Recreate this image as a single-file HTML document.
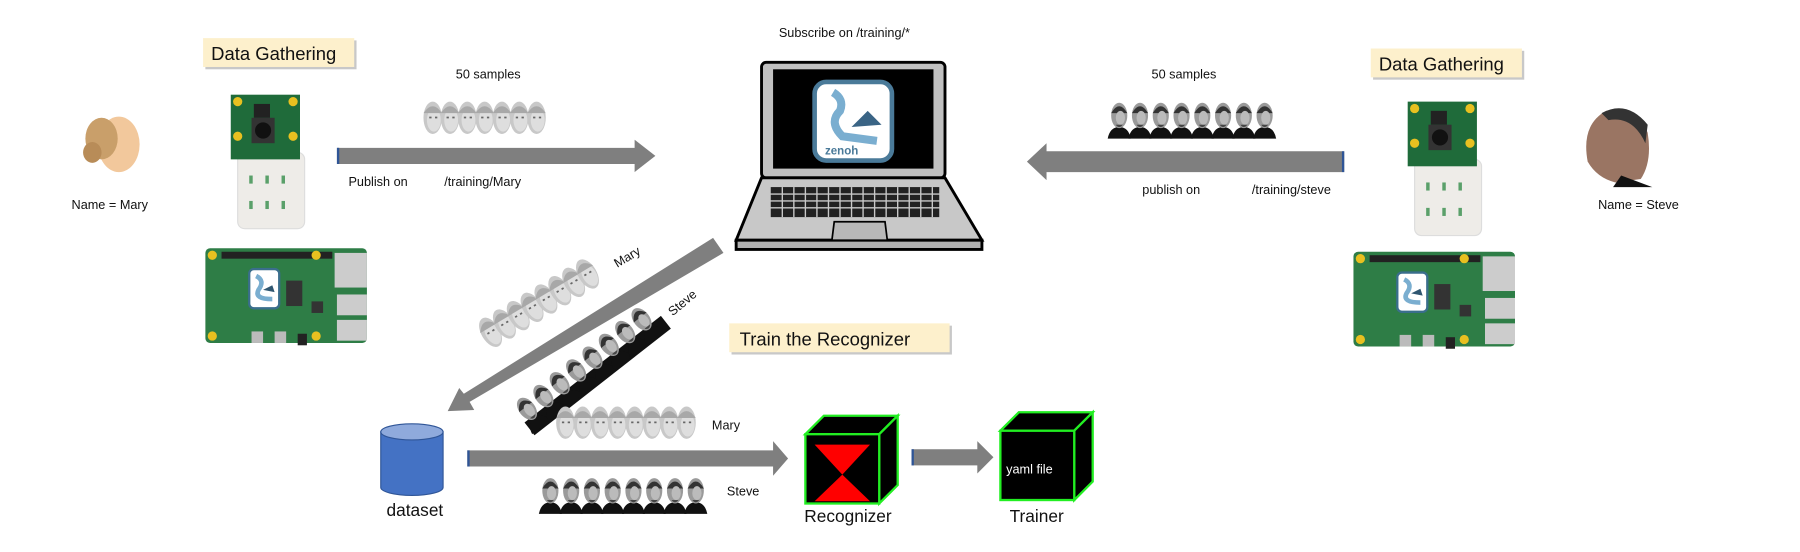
<!DOCTYPE html>
<html><head><meta charset="utf-8"><style>
html,body{margin:0;padding:0;background:#fff;}
svg{display:block;}
text{font-family:"Liberation Sans",sans-serif;}
</style></head><body>
<svg width="1800" height="552" viewBox="0 0 1560 478" preserveAspectRatio="none" xmlns="http://www.w3.org/2000/svg">
<defs>
<g id="mf"><ellipse cx="0" cy="0" rx="8" ry="14" fill="#c8c8c8"/><ellipse cx="1" cy="2" rx="6" ry="10" fill="#dedede"/><path d="M-8,-4 Q0,-16 8,-4" fill="#a8a8a8"/><rect x="-3" y="-1" width="2" height="1.5" fill="#666"/><rect x="2" y="-1" width="2" height="1.5" fill="#666"/></g>
<g id="sf"><path d="M-10,18 Q-8,8 0,8 Q8,8 10,18 Z" fill="#111"/><ellipse cx="0" cy="-2" rx="7" ry="11" fill="#9a9a9a"/><path d="M-7,-4 Q0,-16 7,-4" fill="#333"/><ellipse cx="1" cy="0" rx="4" ry="6" fill="#bbb"/><path d="M-3,6 Q0,10 3,6" fill="#444"/></g>
<g id="cam">
<rect x="6" y="50" width="58" height="66" rx="6" fill="#eeece8" stroke="#ddd"/>
<g fill="#5aa06a"><rect x="16" y="70" width="3" height="7"/><rect x="30" y="70" width="3" height="7"/><rect x="44" y="70" width="3" height="7"/><rect x="16" y="92" width="3" height="7"/><rect x="30" y="92" width="3" height="7"/><rect x="44" y="92" width="3" height="7"/></g>
<rect x="0" y="0" width="60" height="56" fill="#1f6b3a"/>
<circle cx="6" cy="6" r="4" fill="#e8c020"/><circle cx="54" cy="6" r="4" fill="#e8c020"/><circle cx="6" cy="36" r="4" fill="#e8c020"/><circle cx="54" cy="36" r="4" fill="#e8c020"/>
<rect x="20" y="8" width="14" height="12" fill="#222"/><rect x="18" y="20" width="20" height="22" fill="#333"/><circle cx="28" cy="31" r="7" fill="#111"/>
</g>
<g id="rpi">
<rect x="0" y="0" width="140" height="82" rx="4" fill="#2e7d46"/>
<rect x="14" y="3" width="96" height="6" fill="#222"/>
<circle cx="6" cy="6" r="4" fill="#e8c020"/><circle cx="96" cy="6" r="4" fill="#e8c020"/><circle cx="6" cy="76" r="4" fill="#e8c020"/><circle cx="96" cy="76" r="4" fill="#e8c020"/>
<rect x="112" y="4" width="28" height="30" fill="#ccc"/><rect x="114" y="40" width="26" height="18" fill="#ccc"/><rect x="114" y="62" width="26" height="18" fill="#ccc"/>
<rect x="70" y="28" width="14" height="22" fill="#333"/><rect x="92" y="46" width="10" height="10" fill="#333"/>
<rect x="38" y="18" width="26" height="34" rx="4" fill="#fff" stroke="#3a6e8c" stroke-width="2"/>
<path d="M44,24 Q52,28 46,36 Q42,44 58,44" stroke="#7aaed0" stroke-width="4" fill="none"/><path d="M50,36 L58,32 L60,38 Z" fill="#2f5670"/>
<rect x="40" y="72" width="10" height="10" fill="#bbb"/><rect x="60" y="72" width="10" height="10" fill="#bbb"/><rect x="80" y="74" width="8" height="10" fill="#222"/>
</g>
<g id="cube">
<polygon points="0,16 16,0 80,0 64,16" fill="#000" stroke="#22ee22" stroke-width="2"/>
<polygon points="64,16 80,0 80,60 64,76" fill="#000" stroke="#22ee22" stroke-width="2"/>
<rect x="0" y="16" width="64" height="60" fill="#000" stroke="#22ee22" stroke-width="2"/>
</g>
</defs>

<rect x="178" y="35" width="131" height="25" fill="#c8c8c8"/>
<rect x="176" y="33" width="131" height="25" fill="#fdf0cc"/>
<text x="183" y="52" font-size="16" fill="#111">Data Gathering</text>
<ellipse cx="103" cy="125" rx="18" ry="24" fill="#f2c89c"/>
<ellipse cx="88" cy="120" rx="14" ry="18" fill="#c99f6a"/>
<ellipse cx="80" cy="132" rx="8" ry="9" fill="#b88c58"/>
<text x="62" y="181" font-size="11" fill="#111">Name = Mary</text>
<use href="#cam" x="200" y="82"/>
<use href="#rpi" x="178" y="215"/>

<text x="395" y="68" font-size="11" fill="#111">50 samples</text>
<g><use href="#mf" x="375" y="102"/><use href="#mf" x="390" y="102"/><use href="#mf" x="405" y="102"/><use href="#mf" x="420" y="102"/><use href="#mf" x="435" y="102"/><use href="#mf" x="450" y="102"/><use href="#mf" x="465" y="102"/></g>
<polygon points="292,128 550,128 550,121 568,135 550,149 550,142 292,142" fill="#7f7f7f"/>
<rect x="292" y="128" width="2" height="14" fill="#2f5597"/>
<text x="302" y="161" font-size="11" fill="#111">Publish on</text>
<text x="385" y="161" font-size="11" fill="#111">/training/Mary</text>

<text x="675" y="32" font-size="11" fill="#111">Subscribe on /training/*</text>
<rect x="660" y="54" width="159" height="100" rx="4" fill="#c0c0c0" stroke="#000" stroke-width="2.5"/>
<rect x="670" y="60" width="139" height="86" fill="#000"/>
<rect x="706" y="71" width="67" height="68" rx="10" fill="#fff" stroke="#4a7a99" stroke-width="4"/>
<path d="M722,80 Q732,86 728,96 Q718,106 730,118 L760,122" stroke="#7aaed0" stroke-width="7" fill="none"/>
<path d="M738,110 L752,96 L764,108 Z" fill="#3a6485"/>
<text x="715" y="134" font-size="10" font-weight="bold" fill="#4a7a99">zenoh</text>
<polygon points="660,154 819,154 851,208 638,208" fill="#c8c8c8" stroke="#000" stroke-width="2.5"/>
<rect x="638" y="208" width="213" height="8" fill="#b0b0b0" stroke="#000" stroke-width="2.5"/>
<rect x="668" y="162" width="146" height="26" fill="#222"/>
<g stroke="#c8c8c8" stroke-width="1.2">
<line x1="664" y1="168" x2="818" y2="168"/><line x1="664" y1="174" x2="818" y2="174"/><line x1="664" y1="180" x2="818" y2="180"/>
<line x1="678" y1="162" x2="678" y2="188"/><line x1="688" y1="162" x2="688" y2="188"/><line x1="698" y1="162" x2="698" y2="188"/><line x1="708" y1="162" x2="708" y2="188"/><line x1="718" y1="162" x2="718" y2="188"/><line x1="728" y1="162" x2="728" y2="188"/><line x1="738" y1="162" x2="738" y2="188"/><line x1="748" y1="162" x2="748" y2="188"/><line x1="758" y1="162" x2="758" y2="188"/><line x1="768" y1="162" x2="768" y2="188"/><line x1="778" y1="162" x2="778" y2="188"/><line x1="788" y1="162" x2="788" y2="188"/><line x1="798" y1="162" x2="798" y2="188"/><line x1="808" y1="162" x2="808" y2="188"/>
</g>
<polygon points="723,192 767,192 769,208 721,208" fill="#b8b8b8" stroke="#000" stroke-width="1.5"/>

<text x="998" y="68" font-size="11" fill="#111">50 samples</text>
<g><use href="#sf" x="970" y="102"/><use href="#sf" x="988" y="102"/><use href="#sf" x="1006" y="102"/><use href="#sf" x="1024" y="102"/><use href="#sf" x="1042" y="102"/><use href="#sf" x="1060" y="102"/><use href="#sf" x="1078" y="102"/><use href="#sf" x="1096" y="102"/></g>
<polygon points="1165,131 907,131 907,124 890,140 907,156 907,149 1165,149" fill="#7f7f7f"/>
<rect x="1163" y="131" width="2" height="18" fill="#2f5597"/>
<text x="990" y="168" font-size="11" fill="#111">publish on</text>
<text x="1085" y="168" font-size="11" fill="#111">/training/steve</text>

<rect x="1190" y="44" width="131" height="25" fill="#c8c8c8"/>
<rect x="1188" y="42" width="131" height="25" fill="#fdf0cc"/>
<text x="1195" y="61" font-size="16" fill="#111">Data Gathering</text>
<use href="#cam" x="1220" y="88"/>
<use href="#rpi" x="1173" y="218"/>
<path d="M1376,140 Q1370,108 1392,96 Q1418,90 1428,115 Q1432,140 1422,155 L1400,158 Q1384,154 1376,140 Z" fill="#9a7563"/>
<path d="M1388,98 Q1410,86 1428,108 L1426,124 Q1415,100 1394,104 Z" fill="#333"/>
<path d="M1405,152 L1432,162 L1398,162 Z" fill="#111"/>
<text x="1385" y="181" font-size="11" fill="#111">Name = Steve</text>

<polygon points="618,206 627,219 407,348 411,355 388,356 398,336 402,341" fill="#7f7f7f"/>
<g transform="translate(468,262) rotate(-31)">
<use href="#mf" x="-50" y="0"/><use href="#mf" x="-36" y="0"/><use href="#mf" x="-22" y="0"/><use href="#mf" x="-8" y="0"/><use href="#mf" x="6" y="0"/><use href="#mf" x="20" y="0"/><use href="#mf" x="34" y="0"/><use href="#mf" x="48" y="0"/></g>
<text x="535" y="232" font-size="11" fill="#111" transform="rotate(-31 535 232)">Mary</text>
<g transform="translate(510,315) rotate(-38)">
<rect x="-75" y="6" width="150" height="14" fill="#111"/>
<use href="#sf" x="-66" y="0"/><use href="#sf" x="-48" y="0"/><use href="#sf" x="-30" y="0"/><use href="#sf" x="-12" y="0"/><use href="#sf" x="6" y="0"/><use href="#sf" x="24" y="0"/><use href="#sf" x="42" y="0"/><use href="#sf" x="60" y="0"/></g>
<text x="583" y="274" font-size="11" fill="#111" transform="rotate(-40 583 274)">Steve</text>

<rect x="634" y="282" width="191" height="25" fill="#c8c8c8"/>
<rect x="632" y="280" width="191" height="25" fill="#fdf0cc"/>
<text x="641" y="299" font-size="16" fill="#111">Train the Recognizer</text>

<path d="M330,374 L330,422 A27,7 0 0 0 384,422 L384,374 Z" fill="#4472c4" stroke="#2f5597" stroke-width="1"/>
<ellipse cx="357" cy="374" rx="27" ry="7" fill="#8faadc" stroke="#2f5597" stroke-width="1"/>
<text x="335" y="447" font-size="15" fill="#111">dataset</text>

<g><use href="#mf" x="490" y="366"/><use href="#mf" x="505" y="366"/><use href="#mf" x="520" y="366"/><use href="#mf" x="535" y="366"/><use href="#mf" x="550" y="366"/><use href="#mf" x="565" y="366"/><use href="#mf" x="580" y="366"/><use href="#mf" x="595" y="366"/></g>
<text x="617" y="372" font-size="11" fill="#111">Mary</text>
<polygon points="405,390 670,390 670,382 683,397 670,412 670,404 405,404" fill="#7f7f7f"/>
<rect x="405" y="390" width="2" height="14" fill="#2f5597"/>
<g><use href="#sf" x="477" y="427"/><use href="#sf" x="495" y="427"/><use href="#sf" x="513" y="427"/><use href="#sf" x="531" y="427"/><use href="#sf" x="549" y="427"/><use href="#sf" x="567" y="427"/><use href="#sf" x="585" y="427"/><use href="#sf" x="603" y="427"/></g>
<text x="630" y="429" font-size="11" fill="#111">Steve</text>

<use href="#cube" x="698" y="360"/>
<polygon points="706,385 754,385 730,411" fill="#ff0000"/>
<polygon points="730,411 706,434 754,434" fill="#ff0000"/>
<text x="697" y="452" font-size="15" fill="#111">Recognizer</text>

<polygon points="790,389 847,389 847,382 861,396 847,410 847,403 790,403" fill="#7f7f7f"/>
<rect x="790" y="389" width="2" height="14" fill="#2f5597"/>
<use href="#cube" x="867" y="357"/>
<text x="872" y="410" font-size="11" fill="#fff">yaml file</text>
<text x="875" y="452" font-size="15" fill="#111">Trainer</text>
</svg>
</body></html>
